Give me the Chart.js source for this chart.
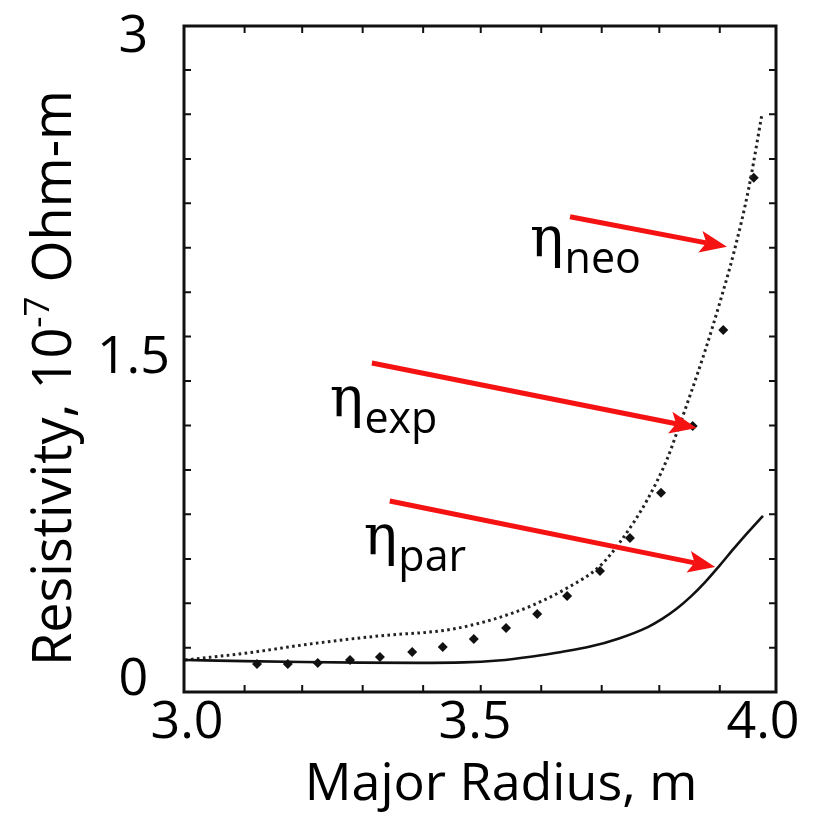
<!DOCTYPE html>
<html><head><meta charset="utf-8">
<script src="https://cdn.jsdelivr.net/npm/chart.js@4.4.1/dist/chart.umd.min.js"></script>
<style>html,body{margin:0;padding:0;background:#fff;overflow:hidden}</style>
</head><body>
<canvas id="c" width="818" height="813" style="display:block;width:818px;height:813px"></canvas>
<script>
// ---- data (Major radius in m, resistivity in 1e-7 Ohm-m) ----
const xTickValues = [3.0, 3.5, 4.0];
const xTickLabels = ['3.0', '3.5', '4.0'];
const yTickValues = [0, 1.5, 3];
const yTickLabels = ['0', '1.5', '3'];
const xMinorTicks = [3.10, 3.20, 3.305, 3.41, 3.51, 3.615, 3.72, 3.82, 3.925];
const yMinorTicks = [0.151, 0.358, 0.565, 0.773, 0.980, 1.187, 1.395, 1.602, 1.809, 2.017, 2.224, 2.431, 2.639, 2.846];

const parR   = [2.9965, 3.10, 3.20, 3.30, 3.40, 3.48, 3.54, 3.60, 3.65, 3.70, 3.75, 3.80, 3.825, 3.85, 3.875, 3.90, 3.925, 3.95, 3.975, 4.00];
const parEta = [0.093, 0.088, 0.084, 0.081, 0.080, 0.082, 0.091, 0.110, 0.131, 0.156, 0.194, 0.247, 0.285, 0.332, 0.390, 0.458, 0.535, 0.615, 0.692, 0.766];

const neoR   = [2.9965, 3.104, 3.219, 3.335, 3.451, 3.509, 3.566, 3.601, 3.660, 3.717, 3.752, 3.799, 3.833, 3.850, 3.875, 3.900, 3.925, 3.950, 3.975, 3.998];
const neoEta = [0.093, 0.126, 0.170, 0.206, 0.233, 0.266, 0.313, 0.350, 0.429, 0.532, 0.644, 0.840, 1.027, 1.150, 1.340, 1.540, 1.760, 2.000, 2.290, 2.636];

const expR   = [3.1215, 3.175, 3.227, 3.283, 3.335, 3.391, 3.444, 3.498, 3.554, 3.608, 3.660, 3.717, 3.769, 3.823, 3.878, 3.931, 3.984];
const expEta = [0.075, 0.075, 0.079, 0.093, 0.107, 0.131, 0.154, 0.191, 0.243, 0.308, 0.392, 0.509, 0.663, 0.873, 1.185, 1.633, 2.343];

// annotations (in data units)
const labelNames   = ['neo', 'exp', 'par'];
const labelR       = [3.5955, 3.248, 3.307];
const labelEta     = [1.978, 1.232, 0.588];
const arrowFromR   = [3.665, 3.321, 3.352];
const arrowFromEta = [2.161, 1.479, 0.835];
const arrowToR     = [3.9375, 3.885, 3.917];
const arrowToEta   = [2.021, 1.176, 0.527];

const xTitle = 'Major Radius, m';
const yTitleParts = ['Resistivity, 10', '-7', ' Ohm-m'];

// ---- helpers ----
const pts = (xs, ys) => xs.map((v, i) => ({x: v, y: ys[i]}));
const RED = 'rgb(245,18,18)';
const FONT = '"Open Sans", "Noto Sans", sans-serif';

function drawArrow(ctx, x0, y0, x1, y1) {
  const a = Math.atan2(y1 - y0, x1 - x0), c = Math.cos(a), s = Math.sin(a);
  const L = 27, W = 11;
  const bx = x1 - L * c, by = y1 - L * s;
  ctx.lineWidth = 5; ctx.lineCap = 'butt';
  ctx.beginPath(); ctx.moveTo(x0, y0); ctx.lineTo(x1 - (L - 6) * c, y1 - (L - 6) * s); ctx.stroke();
  ctx.beginPath();
  ctx.moveTo(x1, y1);
  ctx.lineTo(bx + W * s, by - W * c);
  ctx.lineTo(x1 - (L - 6) * c, y1 - (L - 6) * s);
  ctx.lineTo(bx - W * s, by + W * c);
  ctx.closePath(); ctx.fill();
}

const decor = {
  id: 'decor',
  beforeDatasetsDraw(chart) {
    const {ctx, chartArea: a, scales: {x, y}} = chart;
    ctx.save();
    ctx.strokeStyle = '#111';
    ctx.lineWidth = 3;
    ctx.strokeRect(a.left, a.top, a.right - a.left, a.bottom - a.top);
    ctx.lineWidth = 2;
    ctx.beginPath();
    xMinorTicks.forEach(v => {
      const px = x.getPixelForValue(v);
      ctx.moveTo(px, a.bottom); ctx.lineTo(px, a.bottom - 7);
      ctx.moveTo(px, a.top); ctx.lineTo(px, a.top + 7);
    });
    yMinorTicks.forEach(v => {
      const py = y.getPixelForValue(v);
      ctx.moveTo(a.left, py); ctx.lineTo(a.left + 7, py);
      ctx.moveTo(a.right, py); ctx.lineTo(a.right - 7, py);
    });
    ctx.stroke();
    ctx.restore();
  },
  afterDatasetsDraw(chart) {
    const {ctx, scales: {x, y}} = chart;
    ctx.save();
    ctx.fillStyle = RED; ctx.strokeStyle = RED;
    for (let i = 0; i < arrowFromR.length; i++) {
      drawArrow(ctx, x.getPixelForValue(arrowFromR[i]), y.getPixelForValue(arrowFromEta[i]),
                     x.getPixelForValue(arrowToR[i]), y.getPixelForValue(arrowToEta[i]));
    }
    ctx.fillStyle = '#000';
    ctx.textAlign = 'left'; ctx.textBaseline = 'alphabetic';
    for (let i = 0; i < labelNames.length; i++) {
      const px = x.getPixelForValue(labelR[i]), py = y.getPixelForValue(labelEta[i]);
      ctx.font = '56px "DejaVu Serif", serif';
      ctx.fillText('η', px, py);
      const w = ctx.measureText('η').width;
      ctx.font = '43px ' + FONT;
      ctx.fillText(labelNames[i], px + w + 1, py + 17);
    }
    ctx.restore();
  },
  afterDraw(chart) {
    const {ctx} = chart;
    ctx.save();
    ctx.fillStyle = '#000';
    // x title
    ctx.font = '52px ' + FONT;
    ctx.textAlign = 'center'; ctx.textBaseline = 'alphabetic';
    ctx.fillText(xTitle, 501, 800);
    // y title (rotated, with superscript)
    ctx.translate(71, 378);
    ctx.rotate(-Math.PI / 2);
    ctx.textAlign = 'left';
    const big = '54px ' + FONT, small = '35px ' + FONT;
    ctx.font = big; const w0 = ctx.measureText(yTitleParts[0]).width;
    ctx.font = small; const w1 = ctx.measureText(yTitleParts[1]).width;
    ctx.font = big; const w2 = ctx.measureText(yTitleParts[2]).width;
    let sx = -(w0 + w1 + w2) / 2;
    ctx.font = big; ctx.fillText(yTitleParts[0], sx, 0); sx += w0;
    ctx.font = small; ctx.fillText(yTitleParts[1], sx, -22); sx += w1;
    ctx.font = big; ctx.fillText(yTitleParts[2], sx, 0);
    ctx.restore();
  }
};

new Chart(document.getElementById('c'), {
  type: 'scatter',
  data: {
    datasets: [
      { label: 'η_par', data: pts(parR, parEta), showLine: true, borderColor: '#111', borderWidth: 2.6,
        pointRadius: 0, cubicInterpolationMode: 'monotone', fill: false },
      { label: 'η_neo', data: pts(neoR, neoEta), showLine: true, borderColor: '#222', borderWidth: 3,
        borderDash: [2.6, 3.4], pointRadius: 0, cubicInterpolationMode: 'monotone', fill: false },
      { label: 'η_exp', data: pts(expR, expEta), showLine: false, pointStyle: 'rectRot',
        pointRadius: 5, backgroundColor: '#111', borderColor: '#111', borderWidth: 0 }
    ]
  },
  options: {
    responsive: false,
    animation: false,
    devicePixelRatio: 1,
    layout: { padding: { top: 26, right: 42, left: 0, bottom: 0 } },
    plugins: { legend: { display: false }, tooltip: { enabled: false } },
    scales: {
      x: {
        type: 'linear', min: 2.9948, max: 4.0226,
        afterBuildTicks: s => { s.ticks = xTickValues.map(v => ({value: v})); },
        afterFit: s => { s.height = 121; s.paddingLeft = 0; s.paddingRight = 0; },
        grid: { display: false, drawTicks: false },
        border: { display: false },
        ticks: {
          padding: 0, color: '#000', font: { family: FONT, size: 52 }, maxRotation: 0, autoSkip: false,
          callback: (v) => xTickLabels[xTickValues.indexOf(v)]
        }
      },
      y: {
        type: 'linear', min: -0.056, max: 3.051,
        afterBuildTicks: s => { s.ticks = yTickValues.map(v => ({value: v})); },
        afterFit: s => { s.width = 184; s.paddingTop = 0; s.paddingBottom = 0; },
        grid: { display: false, drawTicks: false },
        border: { display: false },
        ticks: {
          padding: 14, crossAlign: 'center', color: '#000', font: { family: FONT, size: 52 }, autoSkip: false,
          callback: (v) => yTickLabels[yTickValues.indexOf(v)]
        }
      }
    }
  },
  plugins: [decor]
});
</script>
</body></html>
